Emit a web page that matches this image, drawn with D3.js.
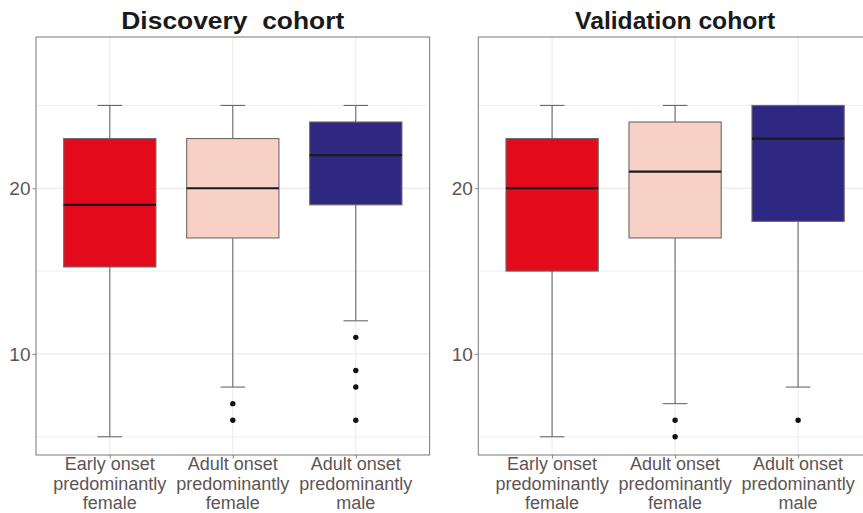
<!DOCTYPE html>
<html>
<head>
<meta charset="utf-8">
<script src="https://cdn.jsdelivr.net/npm/d3@7"></script>
<style>
  html, body { margin: 0; padding: 0; background: #fff; }
  svg { display: block; font-family: "Liberation Sans", Arial, sans-serif; }
</style>
</head>
<body>
<svg id="chart" width="863" height="513"></svg>
<script>
// Group labels (each split into lines for the x axis)
const categories = ["Early onset predominantly female", "Adult onset predominantly female", "Adult onset predominantly male"];
const categoryLines = [
  ["Early onset", "predominantly", "female"],
  ["Adult onset", "predominantly", "female"],
  ["Adult onset", "predominantly", "male"]
];
const fillColors = ["#E20A1B", "#F7D1C6", "#2E2883"];

// Box statistics per group: [lower whisker, Q1, median, Q3, upper whisker]
const discoveryStats = [
  [5, 15.25, 19, 23, 25],
  [8, 17, 20, 23, 25],
  [12, 19, 22, 24, 25]
];
const discoveryOutliers = [
  [],
  [7, 6],
  [11, 9, 8, 6]
];

const validationStats = [
  [5, 15, 20, 23, 25],
  [7, 17, 21, 24, 25],
  [8, 18, 23, 25, 25]
];
const validationOutliers = [
  [],
  [6, 5],
  [6]
];

const yMajorTicks = [10, 20];
const yMinorTicks = [5, 15, 25];
const yDomain = [3.9, 29.13];

const svg = d3.select("#chart");

function drawPanel(opts) {
  const { left, right, top, bottom, title, stats, outliers } = opts;
  const g = svg.append("g");

  const x = d3.scalePoint().domain(categories).range([left, right]).padding(0.6);
  const y = d3.scaleLinear().domain(yDomain).range([bottom, top]);
  const step = x.step();
  const boxW = step * 0.75;
  const capW = step * 0.2;

  // grid
  g.append("g").selectAll("line.minor").data(yMinorTicks).join("line")
    .attr("x1", left).attr("x2", right)
    .attr("y1", d => y(d)).attr("y2", d => y(d))
    .attr("stroke", "#f0eeee").attr("stroke-width", 1);
  g.append("g").selectAll("line.major").data(yMajorTicks).join("line")
    .attr("x1", left).attr("x2", right)
    .attr("y1", d => y(d)).attr("y2", d => y(d))
    .attr("stroke", "#e8e6e6").attr("stroke-width", 1);
  g.append("g").selectAll("line.vg").data(categories).join("line")
    .attr("x1", d => x(d)).attr("x2", d => x(d))
    .attr("y1", top).attr("y2", bottom)
    .attr("stroke", "#ebe9e9").attr("stroke-width", 1);

  // boxes
  const boxes = g.append("g").selectAll("g.box").data(categories).join("g");
  boxes.each(function (cat, i) {
    const s = stats[i];
    const cx = x(cat);
    const b = d3.select(this);
    const line = "#6f6868";
    // whiskers
    b.append("line").attr("x1", cx).attr("x2", cx).attr("y1", y(s[3])).attr("y2", y(s[4]))
      .attr("stroke", line).attr("stroke-width", 1.1);
    b.append("line").attr("x1", cx).attr("x2", cx).attr("y1", y(s[1])).attr("y2", y(s[0]))
      .attr("stroke", line).attr("stroke-width", 1.1);
    if (s[4] > s[3]) {
      b.append("line").attr("x1", cx - capW / 2).attr("x2", cx + capW / 2)
        .attr("y1", y(s[4])).attr("y2", y(s[4])).attr("stroke", line).attr("stroke-width", 1.1);
    }
    if (s[0] < s[1]) {
      b.append("line").attr("x1", cx - capW / 2).attr("x2", cx + capW / 2)
        .attr("y1", y(s[0])).attr("y2", y(s[0])).attr("stroke", line).attr("stroke-width", 1.1);
    }
    // box
    b.append("rect")
      .attr("x", cx - boxW / 2).attr("width", boxW)
      .attr("y", y(s[3])).attr("height", y(s[1]) - y(s[3]))
      .attr("fill", fillColors[i]).attr("stroke", line).attr("stroke-width", 1.1);
    // median
    b.append("line").attr("x1", cx - boxW / 2).attr("x2", cx + boxW / 2)
      .attr("y1", y(s[2])).attr("y2", y(s[2]))
      .attr("stroke", "#1a1a1a").attr("stroke-width", 2.2);
    // outliers
    b.selectAll("circle").data(outliers[i]).join("circle")
      .attr("cx", cx).attr("cy", d => y(d)).attr("r", 2.7).attr("fill", "#111");
  });

  // panel border
  g.append("rect").attr("x", left).attr("y", top)
    .attr("width", right - left).attr("height", bottom - top)
    .attr("fill", "none").attr("stroke", "#8a8282").attr("stroke-width", 1.1);

  // y axis
  const yAxis = g.append("g").attr("transform", `translate(${left},0)`)
    .call(d3.axisLeft(y).tickValues(yMajorTicks).tickSize(3.5).tickPadding(2));
  yAxis.select(".domain").remove();
  yAxis.selectAll(".tick line").attr("stroke", "#8a8282");
  yAxis.selectAll(".tick text").attr("fill", "#5e5555")
    .style("font-size", "19px").style("font-family", "Liberation Sans, Arial, sans-serif")
    .attr("dy", "0.34em");

  // x axis
  const xAxis = g.append("g").attr("transform", `translate(0,${bottom})`)
    .call(d3.axisBottom(x).tickSize(3.5).tickFormat(""));
  xAxis.select(".domain").remove();
  xAxis.selectAll(".tick line").attr("stroke", "#8a8282");
  const lab = g.append("g").selectAll("text").data(categories).join("text")
    .attr("x", d => x(d)).attr("y", bottom + 15)
    .attr("text-anchor", "middle").attr("fill", "#5e5555")
    .style("font-size", "18px");
  lab.each(function (d, i) {
    const t = d3.select(this);
    categoryLines[i].forEach((ln, k) => {
      t.append("tspan").attr("x", x(d)).attr("y", bottom + 15 + k * 19.5).text(ln);
    });
  });

  // title
  g.append("text")
    .attr("x", (left + right) / 2).attr("y", 29)
    .attr("text-anchor", "middle")
    .attr("fill", "#1a1a1a")
    .style("font-size", "24px").style("font-weight", "bold")
    .style("white-space", "pre")
    .attr("textLength", opts.titleWidth).attr("lengthAdjust", "spacingAndGlyphs")
    .text(title);
}

drawPanel({
  left: 36, right: 429.6, top: 37, bottom: 455,
  title: "Discovery\u00a0 cohort", titleWidth: 223,
  stats: discoveryStats, outliers: discoveryOutliers
});
drawPanel({
  left: 478.3, right: 871.9, top: 37, bottom: 455,
  title: "Validation cohort", titleWidth: 200,
  stats: validationStats, outliers: validationOutliers
});
</script>
</body>
</html>
